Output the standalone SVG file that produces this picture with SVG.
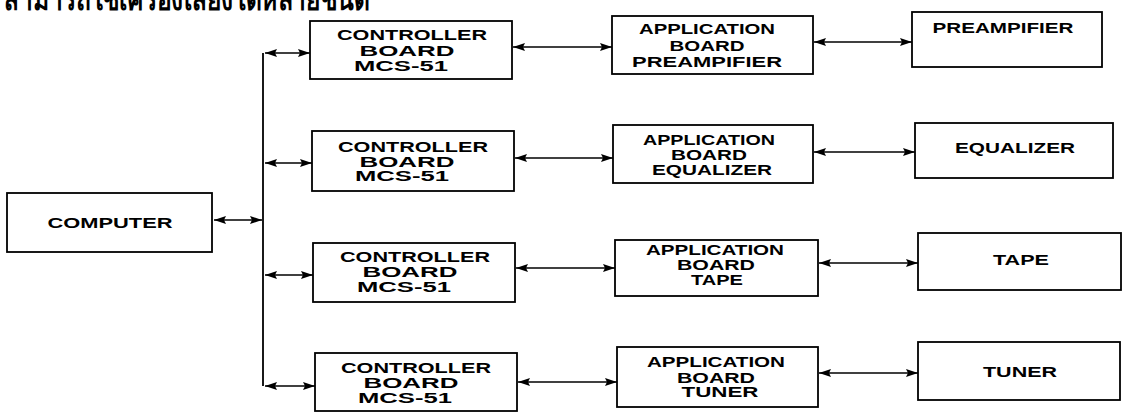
<svg xmlns="http://www.w3.org/2000/svg" width="1127" height="413" viewBox="0 0 1127 413">
<style>
  .box { fill: #fff; stroke: #000; stroke-width: 1.8; }
  .t { font-family: "Liberation Sans", Arial, sans-serif; font-weight: bold; font-size: 14px; fill: #000; text-anchor: middle; }
  .th { font-family: "Noto Sans", "DejaVu Sans", sans-serif; font-weight: bold; font-size: 30px; fill: #000; }
  .c { fill: none; stroke: #000; stroke-width: 1.8; }
  .a { fill: none; stroke: #000; stroke-width: 1.6; marker-start: url(#ah); marker-end: url(#ah); }
</style>
<defs>
  <marker id="ah" viewBox="0 0 12 8" refX="12" refY="4" markerWidth="12" markerHeight="8" markerUnits="userSpaceOnUse" orient="auto-start-reverse">
    <path d="M0,0 L12,4 L0,8 L2,4 Z" fill="#000"/>
  </marker>
</defs>
<rect width="1127" height="413" fill="#fff"/>
<text class="th" x="4" y="10" textLength="366" lengthAdjust="spacingAndGlyphs">สามารถใช้เครื่องเสียงได้หลายชนิด</text>

<g id="connectors">
  <line class="c" x1="263" y1="53" x2="263" y2="386"/>
  <line class="a" x1="214" y1="220" x2="262" y2="220"/>
  <line class="a" x1="265" y1="53" x2="310" y2="53"/>
  <line class="a" x1="265" y1="163" x2="312" y2="163"/>
  <line class="a" x1="265" y1="275" x2="313" y2="275"/>
  <line class="a" x1="265" y1="386" x2="315" y2="386"/>
  <line class="a" x1="513" y1="47" x2="612" y2="47"/>
  <line class="a" x1="515" y1="158" x2="613" y2="158"/>
  <line class="a" x1="516" y1="268" x2="615" y2="268"/>
  <line class="a" x1="518" y1="382" x2="617" y2="382"/>
  <line class="a" x1="814" y1="42" x2="912" y2="42"/>
  <line class="a" x1="814" y1="152" x2="915" y2="152"/>
  <line class="a" x1="819" y1="263" x2="918" y2="263"/>
  <line class="a" x1="819" y1="373" x2="918" y2="373"/>
</g>

<g id="computer">
  <rect class="box" x="7" y="193" width="205" height="59"/>
  <text class="t" x="110" y="228" textLength="125" lengthAdjust="spacingAndGlyphs">COMPUTER</text>
</g>

<g id="controller1">
  <rect class="box" x="310" y="21" width="202" height="58"/>
  <text class="t" x="412" y="40" textLength="150" lengthAdjust="spacingAndGlyphs">CONTROLLER</text>
  <text class="t" x="407" y="56" textLength="95" lengthAdjust="spacingAndGlyphs">BOARD</text>
  <text class="t" x="401" y="71" textLength="94" lengthAdjust="spacingAndGlyphs">MCS-51</text>
</g>
<g id="controller2">
  <rect class="box" x="312" y="131" width="202" height="60"/>
  <text class="t" x="413" y="152" textLength="150" lengthAdjust="spacingAndGlyphs">CONTROLLER</text>
  <text class="t" x="407" y="167" textLength="95" lengthAdjust="spacingAndGlyphs">BOARD</text>
  <text class="t" x="402" y="181" textLength="94" lengthAdjust="spacingAndGlyphs">MCS-51</text>
</g>
<g id="controller3">
  <rect class="box" x="313" y="243" width="202" height="59"/>
  <text class="t" x="415" y="262" textLength="150" lengthAdjust="spacingAndGlyphs">CONTROLLER</text>
  <text class="t" x="410" y="277" textLength="95" lengthAdjust="spacingAndGlyphs">BOARD</text>
  <text class="t" x="404" y="292" textLength="94" lengthAdjust="spacingAndGlyphs">MCS-51</text>
</g>
<g id="controller4">
  <rect class="box" x="315" y="353" width="202" height="58"/>
  <text class="t" x="416" y="373" textLength="150" lengthAdjust="spacingAndGlyphs">CONTROLLER</text>
  <text class="t" x="411" y="388" textLength="95" lengthAdjust="spacingAndGlyphs">BOARD</text>
  <text class="t" x="405" y="403" textLength="94" lengthAdjust="spacingAndGlyphs">MCS-51</text>
</g>

<g id="app1">
  <rect class="box" x="612" y="16" width="201" height="58"/>
  <text class="t" x="707" y="34" textLength="136" lengthAdjust="spacingAndGlyphs">APPLICATION</text>
  <text class="t" x="707" y="51" textLength="75" lengthAdjust="spacingAndGlyphs">BOARD</text>
  <text class="t" x="707" y="67" textLength="150" lengthAdjust="spacingAndGlyphs">PREAMPIFIER</text>
</g>
<g id="app2">
  <rect class="box" x="613" y="125" width="200" height="58"/>
  <text class="t" x="709" y="145" textLength="132" lengthAdjust="spacingAndGlyphs">APPLICATION</text>
  <text class="t" x="709" y="160" textLength="76" lengthAdjust="spacingAndGlyphs">BOARD</text>
  <text class="t" x="712" y="175" textLength="120" lengthAdjust="spacingAndGlyphs">EQUALIZER</text>
</g>
<g id="app3">
  <rect class="box" x="615" y="240" width="203" height="56"/>
  <text class="t" x="715" y="255" textLength="138" lengthAdjust="spacingAndGlyphs">APPLICATION</text>
  <text class="t" x="716" y="270" textLength="78" lengthAdjust="spacingAndGlyphs">BOARD</text>
  <text class="t" x="717" y="285" textLength="52" lengthAdjust="spacingAndGlyphs">TAPE</text>
</g>
<g id="app4">
  <rect class="box" x="617" y="347" width="201" height="60"/>
  <text class="t" x="716" y="367" textLength="138" lengthAdjust="spacingAndGlyphs">APPLICATION</text>
  <text class="t" x="716" y="383" textLength="78" lengthAdjust="spacingAndGlyphs">BOARD</text>
  <text class="t" x="720" y="397" textLength="77" lengthAdjust="spacingAndGlyphs">TUNER</text>
</g>

<g id="preamp">
  <rect class="box" x="912" y="12" width="190" height="55"/>
  <text class="t" x="1003" y="33" textLength="141" lengthAdjust="spacingAndGlyphs">PREAMPIFIER</text>
</g>
<g id="equalizer">
  <rect class="box" x="915" y="123" width="198" height="55"/>
  <text class="t" x="1015" y="153" textLength="120" lengthAdjust="spacingAndGlyphs">EQUALIZER</text>
</g>
<g id="tape">
  <rect class="box" x="918" y="233" width="203" height="57"/>
  <text class="t" x="1021" y="265" textLength="56" lengthAdjust="spacingAndGlyphs">TAPE</text>
</g>
<g id="tuner">
  <rect class="box" x="918" y="342" width="202" height="58"/>
  <text class="t" x="1020" y="377" textLength="74" lengthAdjust="spacingAndGlyphs">TUNER</text>
</g>
</svg>
